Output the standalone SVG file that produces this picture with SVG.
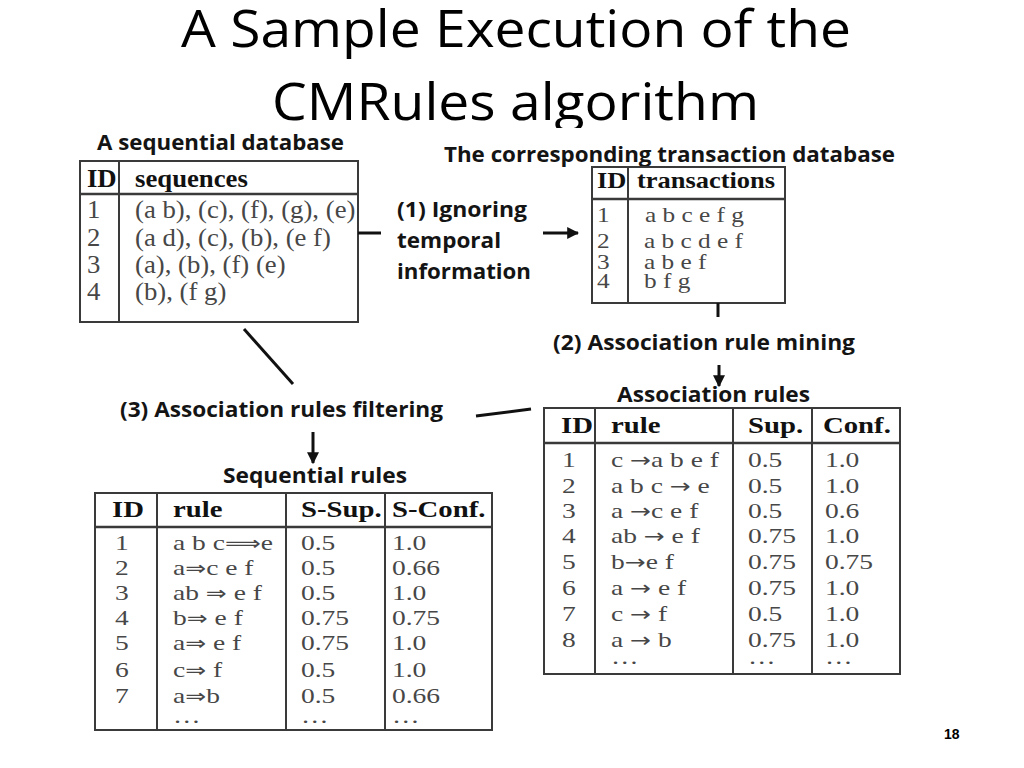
<svg xmlns="http://www.w3.org/2000/svg" width="1024" height="768" viewBox="0 0 1024 768">
<style>
.title{font-family:"Open Sans","Noto Sans",sans-serif;font-size:52px;fill:#000}
.lbl{font-family:"Open Sans","Noto Sans",sans-serif;font-weight:bold;font-size:22px;fill:#141414}
.hd{font-family:"Liberation Serif",serif;font-weight:bold;font-size:23px;fill:#111}
.cell{font-family:"Liberation Serif","DejaVu Serif",serif;font-size:22px;fill:#474747}
.cell1{font-family:"Liberation Serif",serif;font-size:25px;fill:#474747}
.hd1{font-family:"Liberation Serif",serif;font-weight:bold;font-size:25px;fill:#111}
.ar{font-family:"DejaVu Sans",sans-serif;font-size:20px}
.tbl{fill:#fff;stroke:#3a3a3a;stroke-width:2}
.ln{stroke:#3a3a3a;stroke-width:2;fill:none}
.hl{stroke:#3a3a3a;stroke-width:2.5;fill:none}
.con{stroke:#111;stroke-width:3;fill:none}
.pg{font-family:"Liberation Sans",Arial,sans-serif;font-weight:bold;font-size:14px;fill:#000}
</style>
<defs>
<marker id="ah" viewBox="0 0 10 10" refX="9" refY="5" markerWidth="4" markerHeight="4" orient="auto" markerUnits="strokeWidth">
<path d="M0,0 L10,5 L0,10 z" fill="#111"/>
</marker>
</defs>
<rect width="1024" height="768" fill="#fff"/>

<g id="title">
<text class="title" x="181" y="47" textLength="670" lengthAdjust="spacingAndGlyphs">A Sample Execution of the</text>
<text class="title" x="272" y="120" textLength="487" lengthAdjust="spacingAndGlyphs">CMRules algorithm</text>
<rect x="170" y="128" width="700" height="8" fill="#fff"/>
</g>

<g id="seqdb">
<text class="lbl" x="97" y="150" textLength="247" lengthAdjust="spacingAndGlyphs">A sequential database</text>
<rect class="tbl" x="80" y="161" width="278" height="161"/>
<line class="hl" x1="80" y1="194" x2="358" y2="194"/>
<line class="ln" x1="119" y1="161" x2="119" y2="322"/>
<g transform="translate(80 0) scale(1.07 1)">
<text class="hd1" x="6.5" y="187">ID</text>
<text class="hd1" x="51.4" y="187">sequences</text>
<text class="cell1" x="6.5" y="218">1</text>
<text class="cell1" x="51.4" y="218">(a b), (c), (f), (g), (e)</text>
<text class="cell1" x="6.5" y="246">2</text>
<text class="cell1" x="51.4" y="246">(a d), (c), (b), (e f)</text>
<text class="cell1" x="6.5" y="273">3</text>
<text class="cell1" x="51.4" y="273">(a), (b), (f) (e)</text>
<text class="cell1" x="6.5" y="300">4</text>
<text class="cell1" x="51.4" y="300">(b), (f g)</text>
</g>
</g>

<g id="step1">
<text class="lbl" x="397" y="217" textLength="130" lengthAdjust="spacingAndGlyphs">(1) Ignoring</text>
<text class="lbl" x="397" y="248" textLength="104" lengthAdjust="spacingAndGlyphs">temporal</text>
<text class="lbl" x="397" y="279" textLength="134" lengthAdjust="spacingAndGlyphs">information</text>
</g>

<g id="transdb">
<text class="lbl" x="444" y="162" textLength="451" lengthAdjust="spacingAndGlyphs">The corresponding transaction database</text>
<rect class="tbl" x="592" y="167" width="193" height="136"/>
<line class="hl" x1="592" y1="199" x2="785" y2="199"/>
<line class="ln" x1="628" y1="167" x2="628" y2="303"/>
<g transform="translate(592 0) scale(1.15 1)">
<text class="hd" x="4.4" y="188">ID</text>
<text class="hd" x="39.1" y="188">transactions</text>
<text class="cell" x="4.4" y="222" font-size="23">1</text>
<text class="cell" x="46.1" y="222" font-size="23">a b c e f g</text>
<text class="cell" x="4.4" y="248" font-size="23">2</text>
<text class="cell" x="45.2" y="248" font-size="23">a b c d e f</text>
<text class="cell" x="4.4" y="269" font-size="23">3</text>
<text class="cell" x="45.2" y="269" font-size="23">a b e f</text>
<text class="cell" x="4.4" y="288" font-size="23">4</text>
<text class="cell" x="45.2" y="288" font-size="23">b f g</text>
</g>
</g>

<g id="step2">
<text class="lbl" x="553" y="350" textLength="302" lengthAdjust="spacingAndGlyphs">(2) Association rule mining</text>
</g>

<g id="assocrules">
<text class="lbl" x="617" y="402" textLength="193" lengthAdjust="spacingAndGlyphs">Association rules</text>
<rect class="tbl" x="544" y="408" width="356" height="266"/>
<line class="hl" x1="544" y1="443" x2="900" y2="443"/>
<line class="ln" x1="595" y1="408" x2="595" y2="674"/>
<line class="ln" x1="733" y1="408" x2="733" y2="674"/>
<line class="ln" x1="812" y1="408" x2="812" y2="674"/>
<g transform="translate(544 0) scale(1.25 1)">
<text class="hd" x="13.6" y="433">ID</text>
<text class="hd" x="53.6" y="433">rule</text>
<text class="hd" x="163.2" y="433">Sup.</text>
<text class="hd" x="223.2" y="433">Conf.</text>
<g class="cell">
<text x="14.4" y="467">1</text><text x="53.6" y="467">c <tspan class="ar">→</tspan>a b e f</text><text x="163.2" y="467">0.5</text><text x="224.8" y="467">1.0</text>
<text x="14.4" y="493">2</text><text x="53.6" y="493">a b c <tspan class="ar">→</tspan> e</text><text x="163.2" y="493">0.5</text><text x="224.8" y="493">1.0</text>
<text x="14.4" y="518">3</text><text x="53.6" y="518">a <tspan class="ar">→</tspan>c e f</text><text x="163.2" y="518">0.5</text><text x="224.8" y="518">0.6</text>
<text x="14.4" y="543">4</text><text x="53.6" y="543">ab <tspan class="ar">→</tspan> e f</text><text x="163.2" y="543">0.75</text><text x="224.8" y="543">1.0</text>
<text x="14.4" y="569">5</text><text x="53.6" y="569">b<tspan class="ar">→</tspan>e f</text><text x="163.2" y="569">0.75</text><text x="224.8" y="569">0.75</text>
<text x="14.4" y="595">6</text><text x="53.6" y="595">a <tspan class="ar">→</tspan> e f</text><text x="163.2" y="595">0.75</text><text x="224.8" y="595">1.0</text>
<text x="14.4" y="621">7</text><text x="53.6" y="621">c <tspan class="ar">→</tspan> f</text><text x="163.2" y="621">0.5</text><text x="224.8" y="621">1.0</text>
<text x="14.4" y="647">8</text><text x="53.6" y="647">a <tspan class="ar">→</tspan> b</text><text x="163.2" y="647">0.75</text><text x="224.8" y="647">1.0</text>
<text x="53.6" y="664">…</text><text x="163.2" y="664">…</text><text x="224.8" y="664">…</text>
</g>
</g>
</g>

<g id="step3">
<text class="lbl" x="120" y="417" textLength="323" lengthAdjust="spacingAndGlyphs">(3) Association rules filtering</text>
</g>

<g id="seqrules">
<text class="lbl" x="223" y="483" textLength="184" lengthAdjust="spacingAndGlyphs">Sequential rules</text>
<rect class="tbl" x="95" y="493" width="397" height="237"/>
<line class="hl" x1="95" y1="527" x2="492" y2="527"/>
<line class="ln" x1="157" y1="493" x2="157" y2="730"/>
<line class="ln" x1="286" y1="493" x2="286" y2="730"/>
<line class="ln" x1="385" y1="493" x2="385" y2="730"/>
<g transform="translate(95 0) scale(1.25 1)">
<text class="hd" x="13.6" y="517">ID</text>
<text class="hd" x="62.4" y="517">rule</text>
<text class="hd" x="164.8" y="517">S-Sup.</text>
<text class="hd" x="237.6" y="517">S-Conf.</text>
<g class="cell">
<text x="16" y="550">1</text><text x="62.4" y="550">a b c<tspan class="ar">⟹</tspan>e</text><text x="164.8" y="550">0.5</text><text x="237.6" y="550">1.0</text>
<text x="16" y="575">2</text><text x="62.4" y="575">a<tspan class="ar">⇒</tspan>c e f</text><text x="164.8" y="575">0.5</text><text x="237.6" y="575">0.66</text>
<text x="16" y="600">3</text><text x="62.4" y="600">ab <tspan class="ar">⇒</tspan> e f</text><text x="164.8" y="600">0.5</text><text x="237.6" y="600">1.0</text>
<text x="16" y="625">4</text><text x="62.4" y="625">b<tspan class="ar">⇒</tspan> e f</text><text x="164.8" y="625">0.75</text><text x="237.6" y="625">0.75</text>
<text x="16" y="650">5</text><text x="62.4" y="650">a<tspan class="ar">⇒</tspan> e f</text><text x="164.8" y="650">0.75</text><text x="237.6" y="650">1.0</text>
<text x="16" y="677">6</text><text x="62.4" y="677">c<tspan class="ar">⇒</tspan> f</text><text x="164.8" y="677">0.5</text><text x="237.6" y="677">1.0</text>
<text x="16" y="703">7</text><text x="62.4" y="703">a<tspan class="ar">⇒</tspan>b</text><text x="164.8" y="703">0.5</text><text x="237.6" y="703">0.66</text>
<text x="62.4" y="723">…</text><text x="164.8" y="723">…</text><text x="237.6" y="723">…</text>
</g>
</g>
</g>

<g id="connectors">
<line class="con" x1="358" y1="233" x2="381" y2="233"/>
<line class="con" x1="543" y1="233" x2="578" y2="233" marker-end="url(#ah)"/>
<line class="con" x1="718" y1="303" x2="718" y2="317"/>
<line class="con" x1="719" y1="365" x2="719" y2="386" marker-end="url(#ah)"/>
<line class="con" x1="244" y1="329" x2="293" y2="384"/>
<line class="con" x1="476" y1="416" x2="531" y2="409"/>
<line class="con" x1="313" y1="432" x2="313" y2="463" marker-end="url(#ah)"/>
</g>

<g id="page">
<text class="pg" x="944" y="739">18</text>
</g>
</svg>
